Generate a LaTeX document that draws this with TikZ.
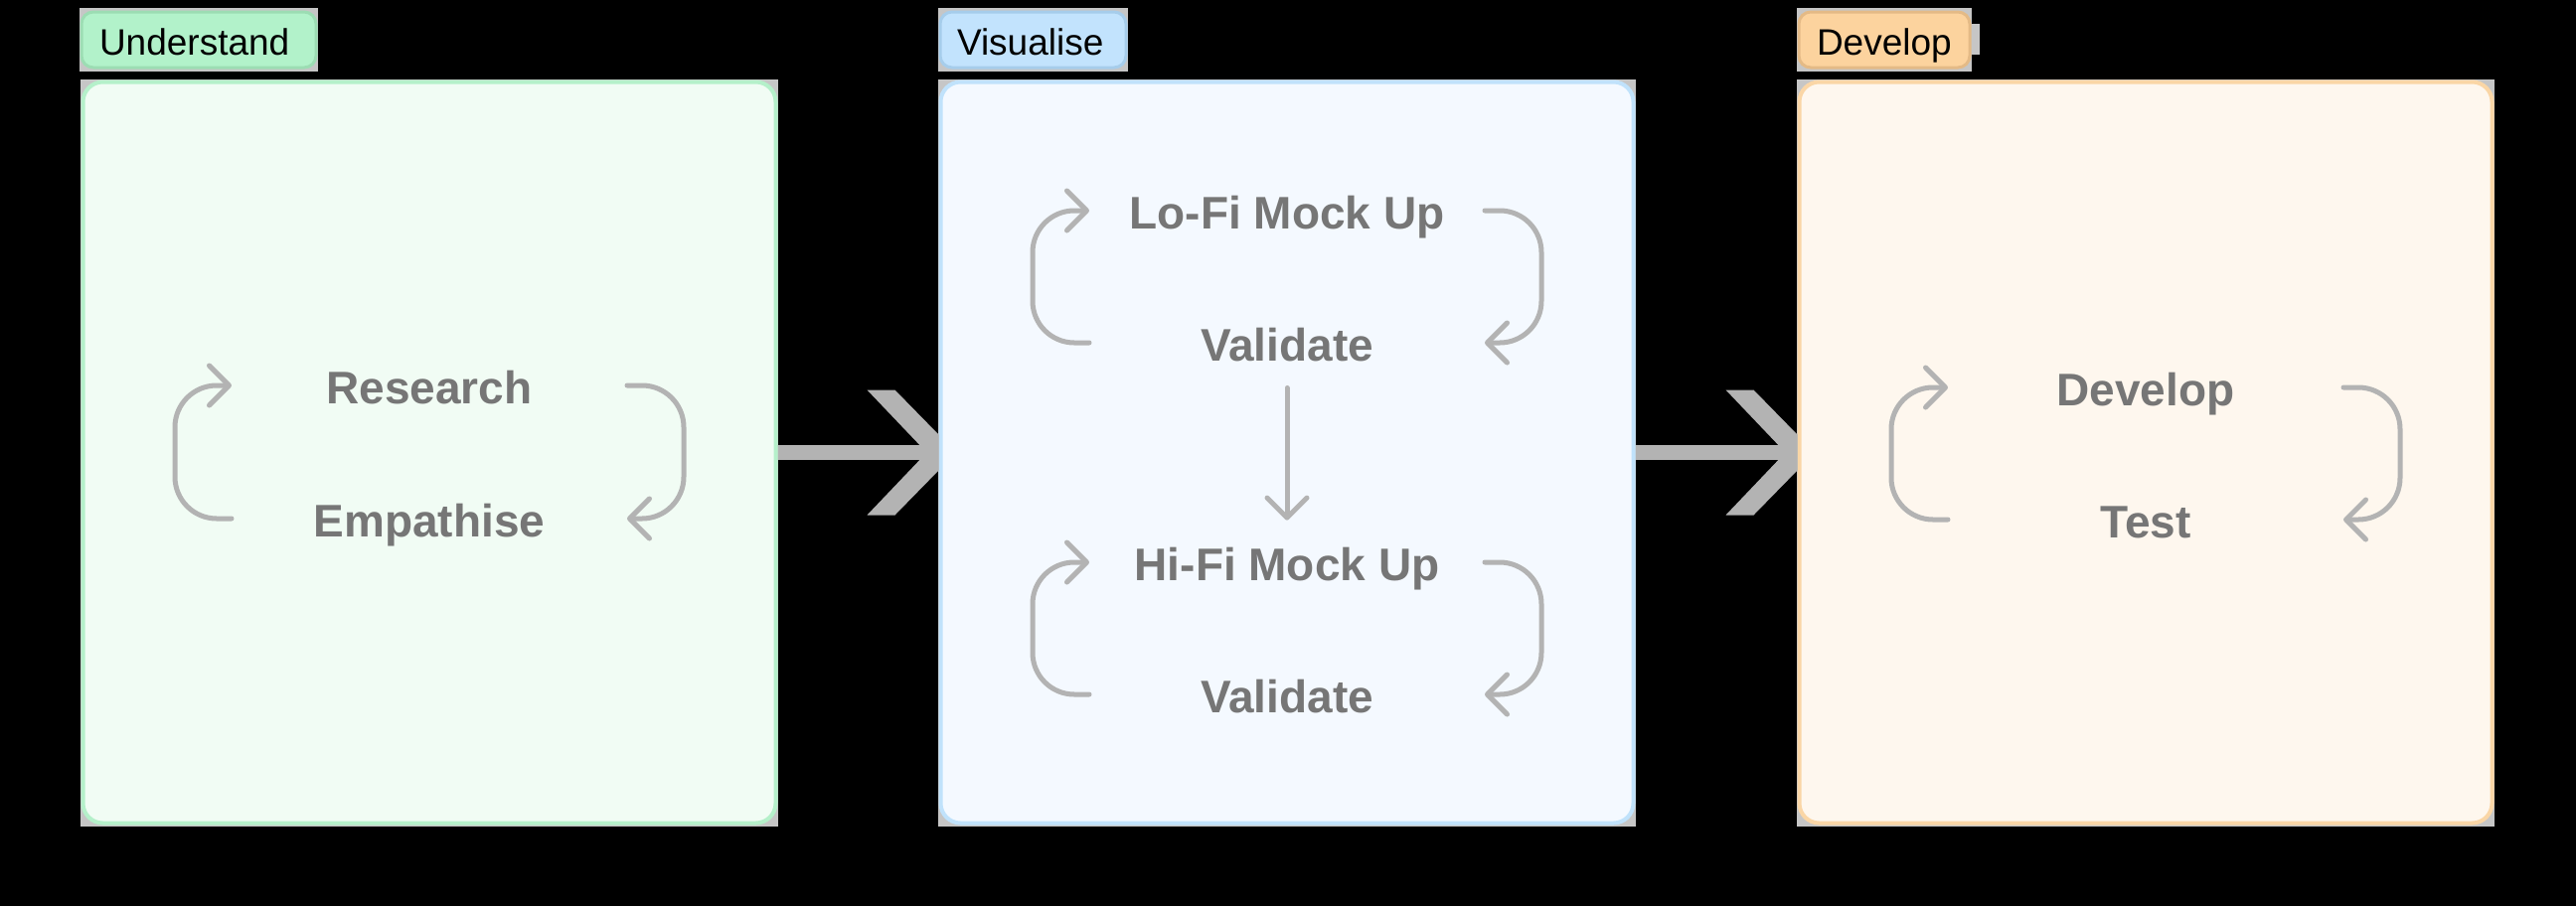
\documentclass[tikz,border=0pt]{standalone}
\usepackage{fontspec}
\setmainfont{Liberation Sans}
\usepackage{xcolor}
\usetikzlibrary{arrows.meta,calc}

\definecolor{frameGray}{HTML}{C6C6C6}
\definecolor{stageGray}{HTML}{B3B3B3}
\definecolor{loopGray}{HTML}{B3B3B3}
\definecolor{textGray}{HTML}{767676}
\definecolor{undLine}{HTML}{B5F0CA}
\definecolor{undFill}{HTML}{F1FCF4}
\definecolor{undTag}{HTML}{B2F2CA}
\definecolor{undTagLine}{HTML}{9CDDB3}
\definecolor{visLine}{HTML}{C0E2FB}
\definecolor{visFill}{HTML}{F4F9FF}
\definecolor{visTag}{HTML}{C2E3FD}
\definecolor{visTagLine}{HTML}{A6CDEB}
\definecolor{devLine}{HTML}{FAD6A6}
\definecolor{devFill}{HTML}{FEF7EE}
\definecolor{devTag}{HTML}{FCD39E}
\definecolor{devTagLine}{HTML}{E4BA86}

\tikzset{every picture/.style={line width=0.75pt}}
\tikzset{
  stagebox/.style={draw, line width=2pt, rounded corners=10pt, inner sep=0pt,
    minimum width=348.5pt, minimum height=373pt},
  tagbox/.style={line width=1.5pt, rounded corners=6pt},
  tagtext/.style={font=\fontsize{18.5}{22}\selectfont, text=black, inner sep=0pt,
    outer sep=0pt, anchor=base west},
  steptext/.style={font=\bfseries\fontsize{23}{27}\selectfont, text=textGray,
    inner sep=0pt, outer sep=0pt, anchor=base},
  cyclearrow/.style={draw=loopGray, line width=2.5pt, rounded corners=21pt, line cap=round,
    -{Straight Barb[length=10pt,width=20pt,round]}},
  flowarrow/.style={draw=loopGray, line width=2.5pt, line cap=round,
    -{Straight Barb[length=10pt,width=20pt,round]}},
  stageline/.style={draw=stageGray, line width=7.5pt},
}

\begin{document}
\begin{tikzpicture}[x=0.5pt,y=0.5pt,yscale=-1,xscale=1]
\useasboundingbox (0,0) rectangle (2592,912);
\fill[black] (0,0) rectangle (2592,912);

%Shape: Rectangle (frames behind the stages)
\fill[frameGray] (81,80) rectangle (783,832);
\fill[frameGray] (944,80) rectangle (1646,832);
\fill[frameGray] (1808,80) rectangle (2510,832);

%Stages
\node[stagebox, draw=undLine, fill=undFill] (und) at (432,455.5) {};
\node[stagebox, draw=visLine, fill=visFill] (vis) at (1295,455.5) {};
\node[stagebox, draw=devLine, fill=devFill] (dev) at (2159,455.5) {};

%Tags
\fill[frameGray] (80,8) rectangle (320,72);
\draw[tagbox, draw=undTagLine, fill=undTag] (82,12) rectangle (318,68);
\node[tagtext] (undtag) at (100,55) {Understand};

\fill[frameGray] (944,8) rectangle (1135,72);
\draw[tagbox, draw=visTagLine, fill=visTag] (946,12) rectangle (1133,68);
\node[tagtext] (vistag) at (963,55) {Visualise};

\fill[frameGray] (1808,8) rectangle (1984,72);
\fill[frameGray] (1984,24) rectangle (1992,55);
\draw[tagbox, draw=devTagLine, fill=devTag] (1810,12) rectangle (1982,68);
\node[tagtext] (devtag) at (1828,55) {Develop};

%Arrows between stages
\draw[stageline] (und.east) -- ($(vis.west)+(-12,0)$);
\fill[stageGray] ($(vis.west)+(-72,-63)$) -- ++(28,0) -- ++(44,45) -- ++(0,36)
  -- ++(-44,45) -- ++(-28,0) -- ++(60,-63) -- cycle;
\draw[stageline] (vis.east) -- ($(dev.west)+(-12,0)$);
\fill[stageGray] ($(dev.west)+(-72,-63)$) -- ++(28,0) -- ++(44,45) -- ++(0,36)
  -- ++(-44,45) -- ++(-28,0) -- ++(60,-63) -- cycle;

% Text Node
\node[steptext] (research) at (432,406) {Research};
\node[steptext] (empathise) at (432,540) {Empathise};
\node[steptext] (lofi) at (1295,230) {Lo-Fi Mock Up};
\node[steptext] (lofival) at (1295,363) {Validate};
\node[steptext] (hifi) at (1295,584) {Hi-Fi Mock Up};
\node[steptext] (hifival) at (1295,717) {Validate};
\node[steptext] (develop) at (2159,408) {Develop};
\node[steptext] (test) at (2159,541) {Test};

%Cycles
\draw[cyclearrow] ($(empathise.base)+(-199,-18)$) -- ++(-57,0) |- ($(research.base)+(-199,-18)$);
\draw[cyclearrow] ($(research.base)+(199,-18)$) -- ++(57,0) |- ($(empathise.base)+(199,-18)$);
\draw[cyclearrow] ($(lofival.base)+(-199,-18)$) -- ++(-57,0) |- ($(lofi.base)+(-199,-18)$);
\draw[cyclearrow] ($(lofi.base)+(199,-18)$) -- ++(57,0) |- ($(lofival.base)+(199,-18)$);
\draw[cyclearrow] ($(hifival.base)+(-199,-18)$) -- ++(-57,0) |- ($(hifi.base)+(-199,-18)$);
\draw[cyclearrow] ($(hifi.base)+(199,-18)$) -- ++(57,0) |- ($(hifival.base)+(199,-18)$);
\draw[cyclearrow] ($(test.base)+(-199,-18)$) -- ++(-57,0) |- ($(develop.base)+(-199,-18)$);
\draw[cyclearrow] ($(develop.base)+(199,-18)$) -- ++(57,0) |- ($(test.base)+(199,-18)$);

%Lo-Fi to Hi-Fi
\draw[flowarrow, shorten <=13.5pt, shorten >=13.5pt] (lofival.south) -- (hifi.north);

\end{tikzpicture}
\end{document}
